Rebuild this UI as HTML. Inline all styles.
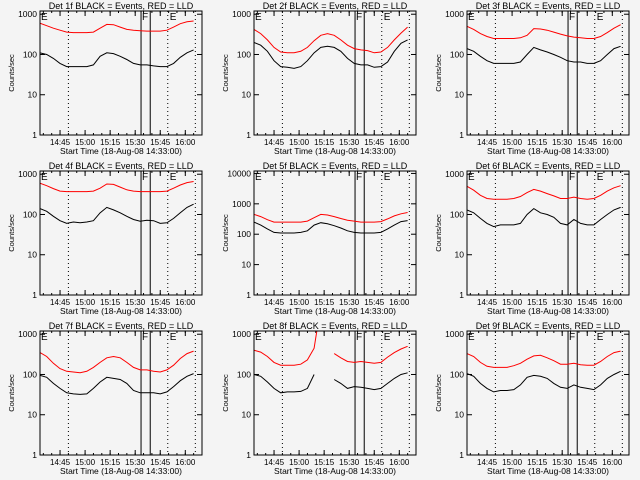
<!DOCTYPE html>
<html><head><meta charset="utf-8"><style>
html,body{margin:0;padding:0;background:#f4f4f4;}
svg{display:block;font-family:"Liberation Sans",sans-serif;}
</style></head><body>
<svg id="chart" width="640" height="480" xmlns="http://www.w3.org/2000/svg">
<rect width="640" height="480" fill="#f4f4f4"/>
</svg>
<script>
// minutes since 14:33:00
const times = [0,4,8,12,16,20,24,28,32,36,40,44,48,52,56,60,64,68,72,76,80,84,88,92];
const tickLabels = ["14:45","15:00","15:15","15:30","15:45","16:00"];
const tickMinutes = [12,27,42,57,72,87];
const dottedMinutes = [17,76.5,93];
const solidMinutes = [60.5,66];
const detNames = ["1f","2f","3f","4f","5f","6f","7f","8f","9f"];
const yMaxDecade = [3,3,3,3,4,3,3,3,3];
const red1 = [600,520,450,400,360,350,350,350,360,450,560,550,480,420,400,390,380,380,380,400,480,580,650,680];
const black1 = [110,100,80,60,50,50,50,50,55,90,110,105,90,75,60,55,55,52,50,50,60,85,110,130];
const red2 = [420,330,230,150,115,110,110,120,150,220,300,330,300,230,170,140,130,125,110,115,150,230,340,480];
const black2 = [200,170,120,70,50,48,45,50,70,110,150,160,150,120,80,60,55,55,48,50,65,120,190,230];
const red3 = [500,420,330,280,250,250,250,250,260,300,440,430,400,360,320,290,270,260,250,250,280,350,450,550];
const black3 = [140,120,90,70,60,60,60,60,65,100,150,130,115,100,85,70,65,65,60,60,70,100,140,160];
const red4 = [600,520,440,380,370,370,370,370,380,450,570,560,480,410,380,370,370,370,370,380,450,540,620,660];
const black4 = [140,120,90,70,60,65,62,65,70,110,150,130,110,90,75,68,72,70,60,62,80,110,150,180];
const red5 = [450,380,300,250,250,250,250,250,270,350,450,430,380,330,290,270,250,250,250,260,320,400,470,520];
const black5 = [250,200,150,115,110,110,110,115,130,200,240,220,190,160,130,115,110,110,110,115,150,200,260,280];
const red6 = [500,400,300,250,240,240,240,250,280,350,420,380,330,290,250,250,270,250,240,250,300,380,460,520];
const black6 = [130,110,80,60,50,55,55,55,60,100,140,110,100,85,60,55,75,60,55,55,75,100,130,150];
const red7 = [350,280,190,140,120,115,110,120,150,200,260,280,260,200,150,130,130,120,115,130,170,250,330,380];
const black7 = [95,85,60,45,35,33,32,33,45,65,85,80,75,60,40,35,35,35,33,37,50,70,90,105];
const red8 = [400,360,280,200,170,170,170,180,230,450,5000,null,330,260,210,200,210,200,190,200,270,350,430,500];
const black8 = [100,90,65,45,35,37,37,38,45,100,null,null,75,60,45,50,48,45,42,45,60,80,100,110];
const red9 = [330,280,200,160,150,150,150,165,190,240,290,300,260,220,180,180,190,175,170,170,210,280,350,380];
const black9 = [105,90,60,45,37,40,40,42,55,85,95,90,80,60,48,45,55,48,45,42,55,80,100,120];
const reds = [red1,red2,red3,red4,red5,red6,red7,red8,red9];
const blacks = [black1,black2,black3,black4,black5,black6,black7,black8,black9];

const NS = "http://www.w3.org/2000/svg";
const svg = document.getElementById("chart");
function mk(tag, attrs, parent){const e=document.createElementNS(NS,tag);for(const k in attrs)e.setAttribute(k,attrs[k]);parent.appendChild(e);return e;}
const L=40,R=202,T=11,B=135;
const pxPerMin=(R-L)/97;
for(let p=0;p<9;p++){
  const ox=[0,214,427][p%3], oy=[0,160,320][Math.floor(p/3)];
  const g=mk("g",{transform:`translate(${ox},${oy})`},svg);
  
  
  const top=yMaxDecade[p];
  const xS=t=>L+t*pxPerMin;
  const yS=v=>B-(B-T)*Math.log10(v)/ (top+0.08);
  const title=mk("text",{x:121,y:9,"font-size":9,"text-anchor":"middle",fill:"#000"},g);
  title.textContent="Det "+detNames[p]+" BLACK = Events, RED = LLD";
  
  
  const yl=mk("text",{x:0,y:0,"font-size":7.5,"text-anchor":"middle",transform:"translate(14,73) rotate(-90)",fill:"#000"},g);
  yl.textContent="Counts/sec";
  
  
  const xl=mk("text",{x:121,y:154,"font-size":8.5,"text-anchor":"middle",fill:"#000"},g);
  xl.textContent="Start Time (18-Aug-08 14:33:00)";
  
  
  for(let d=0;d<=top;d++){
    const y=yS(Math.pow(10,d));
    mk("line",{x1:L,x2:L+5,y1:y,y2:y,stroke:"#000"},g);
    mk("line",{x1:R-5,x2:R,y1:y,y2:y,stroke:"#000"},g);
    const tl=mk("text",{x:37,y:y+3,"font-size":8.5,"text-anchor":"end",fill:"#000"},g);
    tl.textContent=String(Math.pow(10,d));
    
    
  }
  for(let m=2;m<97;m+=5){const x=xS(m);mk("line",{x1:x,x2:x,y1:B,y2:B-2,stroke:"#000"},g);mk("line",{x1:x,x2:x,y1:T,y2:T+2,stroke:"#000"},g);}
  tickMinutes.forEach((m,i)=>{const x=xS(m);mk("line",{x1:x,x2:x,y1:B,y2:B-5,stroke:"#000"},g);mk("line",{x1:x,x2:x,y1:T,y2:T+5,stroke:"#000"},g);
    const t=mk("text",{x:x,y:145,"font-size":8,"text-anchor":"middle",fill:"#000"},g);t.textContent=tickLabels[i];
    
    });
  dottedMinutes.forEach(m=>{const x=xS(m);mk("line",{x1:x,x2:x,y1:T,y2:B,stroke:"#000","stroke-dasharray":"1,3"},g);});
  solidMinutes.forEach(m=>{const x=xS(m);mk("line",{x1:x,x2:x,y1:T,y2:B,stroke:"#000"},g);});
  [["E",L+1],["F",xS(60.5)+1],["E",xS(76.5)+2]].forEach(a=>{const t=mk("text",{x:a[1],y:20,"font-size":10,fill:"#000"},g);t.textContent=a[0];
    
    });
  mk("clipPath",{id:"c"+p},g).appendChild(document.createElementNS(NS,"rect"));
  const cr=g.querySelector("#c"+p+" rect");cr.setAttribute("x",L);cr.setAttribute("y",T);cr.setAttribute("width",R-L);cr.setAttribute("height",B-T);
  [[reds[p],"#ff0000","red-lld-series"],[blacks[p],"#000","black-events-series"]].forEach(s=>{
    let d="",pen=false;
    s[0].forEach((v,i)=>{if(v==null){pen=false;return;}d+=(pen?"L":"M")+xS(times[i]).toFixed(1)+","+yS(v).toFixed(1);pen=true;});
    const path=mk("path",{d:d,fill:"none",stroke:s[1],"stroke-width":1,"clip-path":`url(#c${p})`},g);
    
    
  });
  const box=mk("rect",{x:L,y:T,width:R-L,height:B-T,fill:"none",stroke:"#000"},g);
  
  
}
</script>
</body></html>
